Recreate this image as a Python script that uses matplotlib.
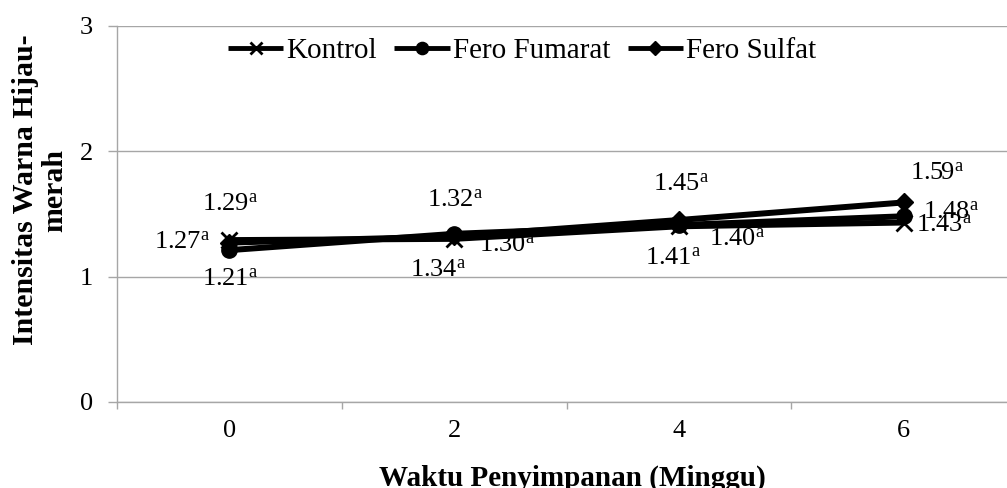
import matplotlib
matplotlib.use("Agg")
import matplotlib.pyplot as plt
import numpy as np

plt.rcParams['font.family'] = ['Liberation Serif', 'DejaVu Serif']

# data
weeks = ['0', '2', '4', '6']
kontrol = [1.29, 1.30, 1.40, 1.43]
fero_fumarat = [1.21, 1.34, 1.41, 1.48]
fero_sulfat = [1.27, 1.32, 1.45, 1.59]
series_names = ['Kontrol', 'Fero Fumarat', 'Fero Sulfat']
notation = ['a', 'a', 'a', 'a']

# label offsets in pixels (dx right, dy down) for each point, per series
kontrol_off = [(1, -36), (53, 7), (58, 13), (41, 3)]
fumarat_off = [(1, 29), (-16, 37), (-6, 34), (48, -4)]
sulfat_off = [(-47, 0), (1, -36), (2, -35), (33, -29)]

gray = '#a6a6a6'
W, H = 1007, 488
fig = plt.figure(figsize=(W / 100, H / 100), dpi=100)
ax = fig.add_axes([117 / W, 1 - 402 / H, (1016 - 117) / W, (402 - 25.5) / H])

x = np.arange(len(weeks))
styles = [('x', 11, 2.0), ('o', 11, 1.0), ('D', 9, 1.0)]
all_vals = [kontrol, fero_fumarat, fero_sulfat]
all_offs = [kontrol_off, fumarat_off, sulfat_off]

for vals, name, (mk, ms, mew) in zip(all_vals, series_names, styles):
    ax.plot(x, vals, color='black', lw=4.3, marker=mk, ms=ms, mew=mew,
            mec='black', mfc='black', label=name, solid_capstyle='butt')

for vals, offs in zip(all_vals, all_offs):
    for xi, v, n, (dx, dy) in zip(x, vals, notation, offs):
        ax.annotate(f"{v:.2f}" + r"$\mathregular{^{" + n + "}}$", (xi, v),
                    xytext=(dx * 0.72, -dy * 0.72), textcoords='offset points',
                    ha='center', va='center', fontsize=19)

ax.set_ylim(0, 3)
ax.set_xlim(-0.5, 3.5)
ax.set_yticks([0, 1, 2, 3])
ax.set_xticks(x)
ax.set_xticklabels(weeks)
ax.set_xticks(np.arange(-0.5, 4, 1), minor=True)
ax.tick_params(axis='x', which='major', length=0, pad=13, labelsize=19)
ax.tick_params(axis='x', which='minor', length=5, width=1, color=gray, direction='out')
ax.tick_params(axis='y', length=6.5, width=1, color=gray, pad=11, labelsize=19)

ax.grid(axis='y', color=gray, lw=1)
ax.set_axisbelow(True)
for s in ['top', 'right']:
    ax.spines[s].set_visible(False)
for s in ['left', 'bottom']:
    ax.spines[s].set_color(gray)
    ax.spines[s].set_linewidth(1)

fig.text(572 / W, 1 - 478 / H, 'Waktu Penyimpanan (Minggu)', ha='center', va='center',
         fontsize=21, fontweight='bold')
fig.text(40 / W, 1 - 190 / H, 'Intensitas Warna Hijau-\nmerah', ha='center', va='center',
         rotation=90, fontsize=21.5, fontweight='bold', multialignment='center',
         linespacing=1.12)

leg = ax.legend(loc='center', bbox_to_anchor=(522 / W, 1 - 51 / H), bbox_transform=fig.transFigure,
                ncol=3, frameon=False, fontsize=21, handlelength=1.9, handletextpad=0.1,
                columnspacing=0.6, markerscale=0.8, borderpad=0)
for h in leg.legend_handles:
    h.set_linewidth(3.5)

fig.savefig('out.png', dpi=100)
